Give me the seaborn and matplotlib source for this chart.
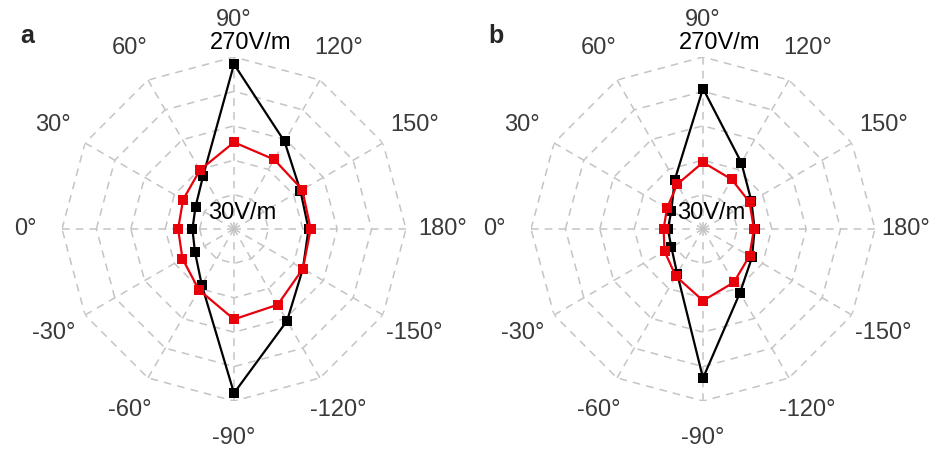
import numpy as np
import matplotlib
matplotlib.use("Agg")
import matplotlib.pyplot as plt
import seaborn as sns

sns.set_theme(style="white")
plt.rcParams["font.family"] = ["Liberation Sans", "DejaVu Sans"]

# angles in degrees (0 at left, clockwise, 90 at top)
angles = [0, 30, 60, 90, 120, 150, 180, 210, 240, 270, 300, 330]
angle_labels = ["0°", "30°", "60°", "90°", "120°", "150°", "180°",
                "-150°", "-120°", "-90°", "-60°", "-30°"]

# field amplitude (V/m)
a_black = [88, 92, 116, 260, 171, 137, 134, 141, 178, 259, 120, 93]
a_red = [108, 112, 125, 151, 142, 140, 137, 141, 152, 156, 128, 113]
b_black = [79, 81, 109, 226, 137, 108, 102, 109, 133, 238, 102, 81]
b_red = [85, 88, 102, 123, 110, 105, 101, 105, 116, 130, 106, 92]

R_MIN, R_MAX = 30, 270
rings = np.linspace(R_MIN, R_MAX, 6)[1:]
GRID_C = "#c4c4c4"
RED = "#e8000b"

fig = plt.figure(figsize=(9.32, 4.58), dpi=100)
W, H = 932, 458
rad_px = 172
panels = [("a", 234, a_black, a_red), ("b", 703, b_black, b_red)]

th = np.deg2rad(angles)
th_closed = np.append(th, th[0] + 2 * np.pi)

for name, cx, black, red in panels:
    ax = fig.add_axes([(cx - rad_px) / W, (H - 229 - rad_px) / H,
                       2 * rad_px / W, 2 * rad_px / H], projection="polar")
    ax.set_theta_zero_location("W")
    ax.set_theta_direction(-1)
    ax.set_ylim(R_MIN, R_MAX)
    ax.grid(False)
    ax.spines["polar"].set_visible(False)
    ax.set_xticks([])
    ax.set_yticks([])

    # dodecagon grid + spokes
    for r in rings:
        ax.plot(th_closed, [r] * len(th_closed), ls=(0, (5, 4)), color=GRID_C, lw=1.1, zorder=1)
    for t in th:
        ax.plot([t, t], [R_MAX, R_MIN], ls=(0, (5, 4)), color=GRID_C, lw=1.1, zorder=1)

    for vals, col, z in [(black, "black", 3), (red, RED, 4)]:
        sns.lineplot(x=th_closed, y=np.append(vals, vals[0]), ax=ax, sort=False,
                     estimator=None, color=col, lw=1.6, marker="s", markersize=7,
                     markeredgecolor=col, markeredgewidth=0, zorder=z)
    ax.set_xlabel("")
    ax.set_ylabel("")

    for t, lab in zip(th, angle_labels):
        r_lab = 313 if (name == "b" and lab == "180°") else 321
        ax.text(t, r_lab, lab, ha="center", va="center", fontsize=17,
                color="#3a3a3a", clip_on=False)

    ax.text(0.549, 1.041, "270V/m", transform=ax.transAxes, ha="center",
            va="center", fontsize=17, color="black", zorder=6)
    ax.text(0.424, 0.547, "30V/m", transform=ax.transAxes, ha="left",
            va="center", fontsize=17, color="black", zorder=6)

    fig.text((cx - 207) / W, (H - 36) / H, name, fontsize=18, fontweight="bold",
             ha="center", va="center")

fig.savefig("out.png", dpi=100, facecolor="white")
